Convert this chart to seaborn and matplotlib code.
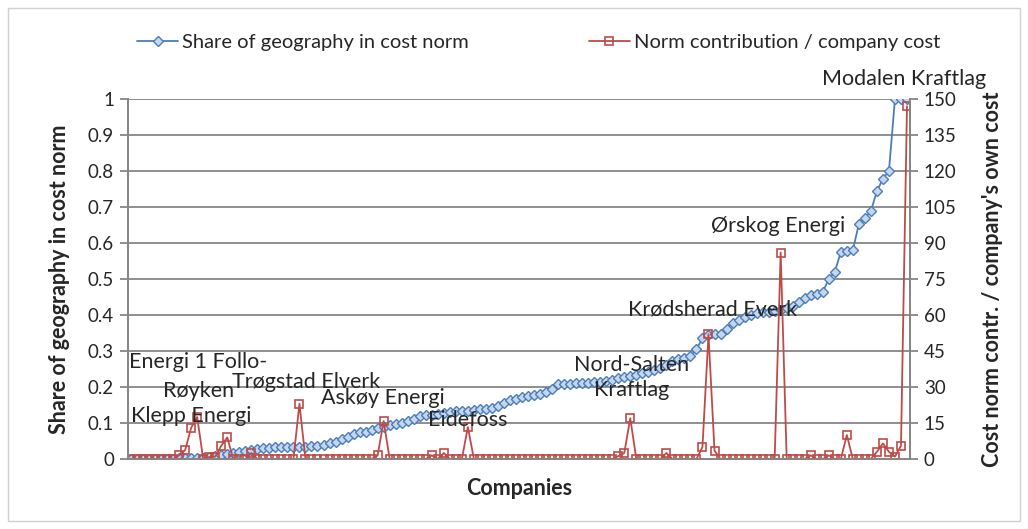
import numpy as np
import matplotlib
matplotlib.use("Agg")
import matplotlib.pyplot as plt
import seaborn as sns
import pandas as pd
from matplotlib.patches import Rectangle

# share of geography in cost norm, companies sorted ascending
share = [
    0, 0, 0, 0, 0, 0, 0, 0, 0.002, 0.002,
    0.002, 0.002, 0.004, 0.006, 0.008, 0.01, 0.014, 0.017, 0.02, 0.023,
    0.026, 0.028, 0.03, 0.031, 0.032, 0.033, 0.033, 0.034, 0.034, 0.034,
    0.035, 0.037, 0.04, 0.044, 0.048, 0.055, 0.062, 0.07, 0.075, 0.076,
    0.08, 0.086, 0.09, 0.094, 0.097, 0.1, 0.105, 0.112, 0.12, 0.122,
    0.123, 0.125, 0.128, 0.131, 0.132, 0.133, 0.134, 0.136, 0.138, 0.14,
    0.142, 0.147, 0.155, 0.163, 0.168, 0.171, 0.174, 0.177, 0.18, 0.186,
    0.195, 0.207, 0.208, 0.209, 0.21, 0.211, 0.212, 0.213, 0.215, 0.217,
    0.22, 0.224, 0.227, 0.23, 0.234, 0.238, 0.242, 0.246, 0.252, 0.262,
    0.272, 0.278, 0.281, 0.285, 0.305, 0.335, 0.345, 0.346, 0.347, 0.36,
    0.378, 0.386, 0.394, 0.4, 0.405, 0.407, 0.408, 0.412, 0.415, 0.42,
    0.425, 0.436, 0.447, 0.455, 0.458, 0.464, 0.5, 0.52, 0.575, 0.578,
    0.58, 0.653, 0.669, 0.689, 0.744, 0.778, 0.8, 1.0, 1.0, 1.0,
]

# norm contribution / company's own cost (non-zero entries, rest are 0)
contrib_nonzero = {
    8: 1.5, 9: 3.75, 10: 13, 11: 17.5, 13: 0.8, 14: 1, 15: 5.5, 16: 9,
    20: 2.5, 28: 23, 41: 1.5, 42: 15.8, 50: 1.5, 52: 2.5, 56: 13.3,
    81: 1.2, 82: 2.5, 83: 17, 89: 2.5, 95: 5, 96: 52, 97: 3.5,
    108: 86, 113: 1.5, 116: 1.5, 119: 10, 124: 3, 125: 6.5, 126: 3,
    127: 1, 128: 5.5, 129: 147,
}
contrib = [contrib_nonzero.get(i, 0) for i in range(len(share))]

# labelled companies: index, text, label centre offset (px) from the point
label_idx = [10, 11, 11, 28, 42, 56, 83, 96, 108, 129]
label_txt = ["Klepp Energi", "Energi 1 Follo-", "Røyken", "Trøgstad Elverk",
             "Askøy Energi", "Eidefoss", "Nord-Salten\nKraftlag",
             "Krødsherad Everk", "Ørskog Energi", "Modalen Kraftlag"]
label_off = [(0, 12), (1, 55), (1, 26), (7, 22), (-1, 23), (0, 7), (1, 41),
             (4, 25), (-3, 27), (-3, 27)]

df = pd.DataFrame({"company": np.arange(len(share)), "share": share,
                   "contrib": contrib})

sns.set_style("white")
plt.rcParams["font.family"] = ["Lato", "DejaVu Sans"]

W, H = 1028, 529
fig, ax = plt.subplots(figsize=(W / 100, H / 100), dpi=100)
fig.subplots_adjust(left=128 / W, right=910 / W, top=1 - 99 / H, bottom=1 - 459 / H)
ax2 = ax.twinx()

blue = "#4A7EBB"
red = "#BE4B48"
grey = "#868686"

sns.lineplot(data=df, x="company", y="share", ax=ax, color=blue, linewidth=1.3,
             marker="D", markersize=5, markerfacecolor="#c6d6ec",
             markeredgecolor=blue, markeredgewidth=1.0,
             label="Share of geography in cost norm", legend=False)
sns.lineplot(data=df, x="company", y="contrib", ax=ax2, color=red, linewidth=1.3,
             marker="s", markersize=6, markerfacecolor="none",
             markeredgecolor=red, markeredgewidth=1.2,
             label="Norm contribution / company cost", legend=False)

n = len(share)
ax.set_xlim(-0.5, n - 0.5)
ax.set_ylim(0, 1)
ax2.set_ylim(0, 150)
ax.set_yticks(np.arange(0, 1.01, 0.1))
ax.set_yticklabels(["0"] + [f"{v:.1f}" for v in np.arange(0.1, 0.95, 0.1)] + ["1"])
ax2.set_yticks(np.arange(0, 151, 15))
ax.set_xticks(np.arange(-0.5, n, 1.0))
ax.set_xticklabels([])

ax.grid(axis="y", color=grey, linewidth=1.3)
ax.grid(axis="x", visible=False)
for a in (ax, ax2):
    a.spines["top"].set_visible(False)
    for s in ("left", "right", "bottom"):
        a.spines[s].set_color(grey)
        a.spines[s].set_linewidth(1.3)
ax.tick_params(axis="y", length=6, color=grey, width=1.3, labelsize=13.5, pad=4)
ax2.tick_params(axis="y", length=6, color=grey, width=1.3, labelsize=13.5, pad=4)
ax.tick_params(axis="x", length=5, color=grey, width=1.0)

ax.set_xlabel("Companies", fontsize=15.5, fontweight="bold", labelpad=5)
ax.set_ylabel("Share of geography in cost norm", fontsize=15.5, fontweight="bold",
              labelpad=13)
ax2.set_ylabel("Cost norm contr. / company's own cost", fontsize=15.5,
               fontweight="bold", labelpad=18)

for i, txt, (dx, dy) in zip(label_idx, label_txt, label_off):
    ax2.annotate(txt, (i, contrib[i]), xytext=(dx, dy), textcoords="offset pixels",
                 ha="center", va="center", fontsize=15.5, linespacing=1.3,
                 annotation_clip=False)

h1, l1 = ax.get_legend_handles_labels()
h2, l2 = ax2.get_legend_handles_labels()
fig.legend(h1 + h2, l1 + l2, loc="center", bbox_to_anchor=(0.524, 1 - 42 / H),
           ncol=2, frameon=False, fontsize=14.5, handlelength=2.0,
           columnspacing=6.0, handletextpad=0.2)

fig.patches.append(Rectangle((8 / W, 8 / H), 1 - 16 / W, 1 - 16 / H,
                             transform=fig.transFigure, fill=False,
                             edgecolor="#d0d0d0", linewidth=1.0))

fig.savefig("out.png", dpi=100)
